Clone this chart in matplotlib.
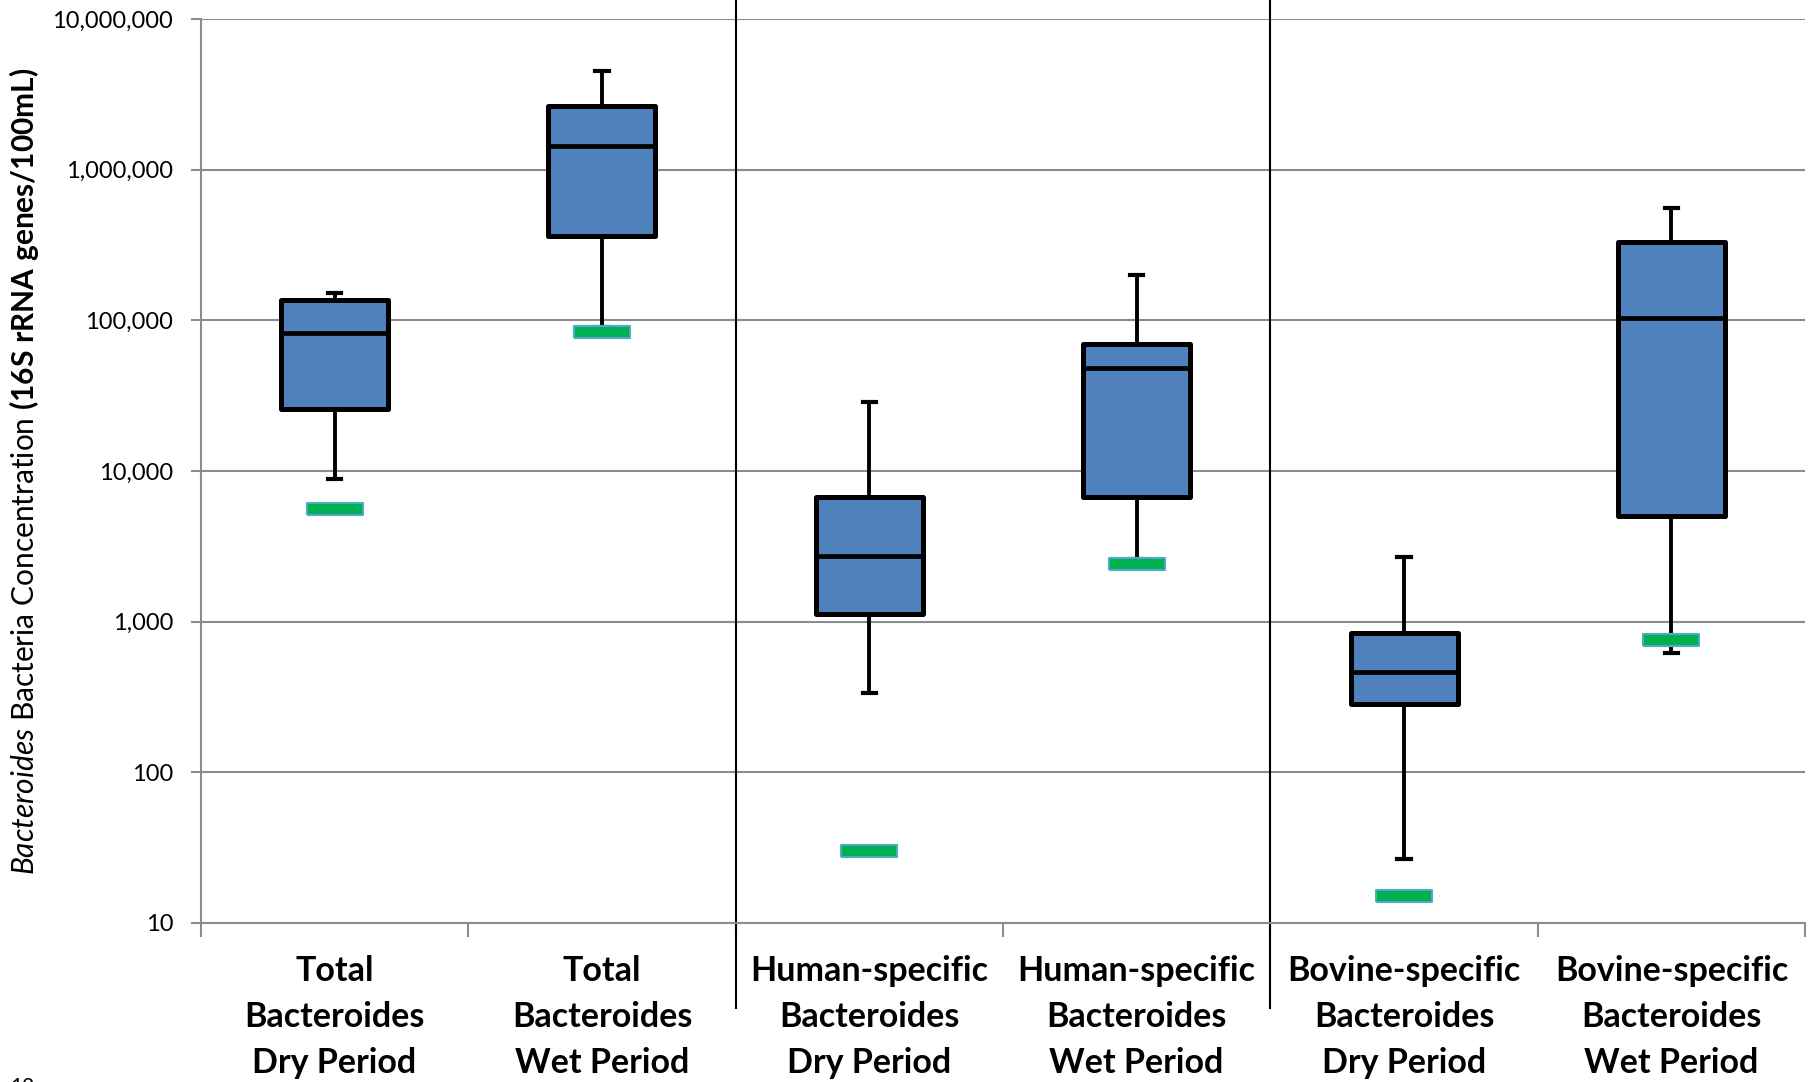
import matplotlib
matplotlib.use("Agg")
import matplotlib.pyplot as plt
import matplotlib.transforms as mtransforms
from matplotlib.ticker import FixedLocator, NullLocator, FuncFormatter

plt.rcParams['font.family'] = ['Lato', 'DejaVu Sans']
plt.rcParams['mathtext.fontset'] = 'custom'
plt.rcParams['mathtext.rm'] = 'Lato'
plt.rcParams['mathtext.it'] = 'Lato:italic'
plt.rcParams['mathtext.bf'] = 'Lato:bold'

# data (log scale)
categories = ["Total\nBacteroides\nDry Period", "Total\nBacteroides\nWet Period",
              "Human-specific\nBacteroides\nDry Period", "Human-specific\nBacteroides\nWet Period",
              "Bovine-specific\nBacteroides\nDry Period", "Bovine-specific\nBacteroides\nWet Period"]
whisker_low = [8900, 91000, 335, 2620, 26.5, 624]
q1 = [25900, 364000, 1120, 6700, 286, 5060]
median = [82000, 1430000, 2720, 48200, 461, 103000]
q3 = [137000, 2650000, 6700, 69900, 844, 333000]
whisker_high = [152000, 4520000, 28800, 199000, 2670, 557000]
green_marker = [5630, 83500, 30, 2400, 15, 758]
yticks = [10, 100, 1000, 10000, 100000, 1000000, 10000000]

fig = plt.figure(figsize=(18.2, 10.82), dpi=100)
ax = fig.add_axes([0.1104, 0.1470, 0.8814, 0.8354])

positions = list(range(len(categories)))
stats = []
for i in positions:
    stats.append({'whislo': whisker_low[i], 'q1': q1[i], 'med': median[i],
                  'q3': q3[i], 'whishi': whisker_high[i], 'fliers': []})

ax.bxp(stats, positions=positions, widths=0.4, patch_artist=True, showfliers=False,
       capwidths=0.05,
       boxprops=dict(facecolor='#4F81BD', edgecolor='black', linewidth=3.6, joinstyle='round'),
       medianprops=dict(color='black', linewidth=3.4, solid_capstyle='butt'),
       whiskerprops=dict(color='black', linewidth=2.8),
       capprops=dict(color='black', linewidth=3.0))

# green markers (wide flat rectangles)
bar_marker = [(-2.3, -0.5), (2.3, -0.5), (2.3, 0.5), (-2.3, 0.5), (-2.3, -0.5)]
ax.plot(positions, green_marker, linestyle='none', marker=bar_marker, markersize=40,
        markerfacecolor='#00B050', markeredgecolor='#4BACC6', markeredgewidth=1.5, zorder=4)

ax.set_yscale('log')
ax.set_ylim(10, 10000000)
ax.set_xlim(-0.5, 5.5)
ax.yaxis.set_major_locator(FixedLocator(yticks))
ax.yaxis.set_minor_locator(NullLocator())
ax.yaxis.set_major_formatter(FuncFormatter(lambda v, p: f"{int(round(v)):,}"))
ax.yaxis.grid(True, color='#8C8C8C', linewidth=1.5)
ax.set_axisbelow(True)

ax.set_xticks(positions)
ax.set_xticklabels(categories, fontsize=24.5, fontweight='bold', linespacing=1.55)
ax.set_xticks([p - 0.5 for p in positions] + [5.5], minor=True)
ax.tick_params(axis='x', which='major', length=0, pad=23)
ax.tick_params(axis='x', which='minor', length=10, width=1.5, color='#8C8C8C')
ax.tick_params(axis='y', which='major', length=7, width=1.5, color='#8C8C8C', labelsize=17, pad=13)

for side in ['top', 'right']:
    ax.spines[side].set_visible(False)
for side in ['left', 'bottom']:
    ax.spines[side].set_color('#8C8C8C')
    ax.spines[side].set_linewidth(1.5)

ax.set_ylabel(r"$\mathit{Bacteroides}$ Bacteria Concentration $\mathbf{(16S\ rRNA\ genes/100mL)}$",
              fontsize=21.5)
ax.yaxis.set_label_coords(-0.100, 0.5)

# vertical dividers between the groups
trans = mtransforms.blended_transform_factory(ax.transData, fig.transFigure)
for xd in [1.5, 3.5]:
    ax.plot([xd, xd], [1.0, 0.0684], color='black', linewidth=1.5, transform=trans, clip_on=False)

fig.text(0.0055, -0.0102, "12", fontsize=15, va='baseline', ha='left')

fig.savefig("out.png", dpi=100)
